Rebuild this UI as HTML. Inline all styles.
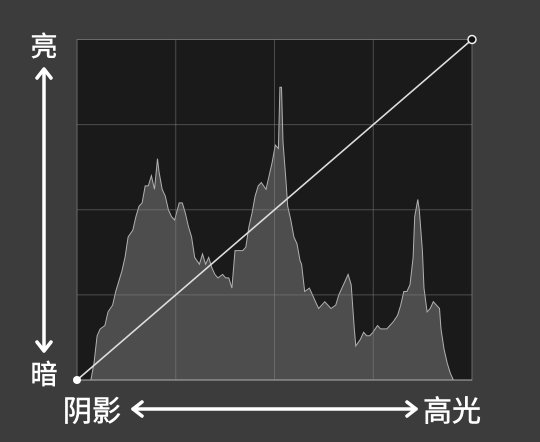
<!DOCTYPE html>
<html><head><meta charset="utf-8"><style>
html,body{margin:0;padding:0;background:#3c3c3c;}
svg{display:block;}
text{font-family:"Liberation Sans","Noto Sans CJK SC",sans-serif;fill:#fff;stroke:#fff;stroke-width:0.5;}
</style></head><body>
<svg id="chart" width="540" height="442">
<rect x="0" y="0" width="540" height="442" fill="#3c3c3c"/>
<rect x="77" y="39.5" width="395" height="340.5" fill="#1a1a1a" stroke="#6a6a6a" stroke-width="1"/>
<g id="grid"></g>
<path id="hist" fill="#4d4d4d" stroke="#b0b0b0" stroke-width="1"/>
<g id="grid2"></g>
<line id="curve" stroke="#dedede" stroke-width="1.6"/>
<circle id="p0" r="4" fill="#fff"/>
<circle id="p1" r="4" fill="#111" stroke="#eee" stroke-width="1.5"/>
<text x="44" y="56" font-size="27" text-anchor="middle">亮</text>
<text x="44" y="384" font-size="27" text-anchor="middle">暗</text>
<g stroke="#fff" stroke-width="3.5" fill="none" stroke-linecap="round" stroke-linejoin="round">
<line x1="44" y1="70" x2="44" y2="350"/>
<polyline points="37,78 44,69 51,78"/>
<polyline points="37,342 44,351 51,342"/>
</g>
<text x="63" y="421" font-size="29">阴影</text>
<text x="423" y="421" font-size="29">高光</text>
<g stroke="#fff" stroke-width="3.5" fill="none" stroke-linecap="round" stroke-linejoin="round">
<line x1="133" y1="409" x2="416" y2="409"/>
<polyline points="142,402 133,409 142,416"/>
<polyline points="407,402 416,409 407,416"/>
</g>
</svg>
<script>
const levels=[0,9,11,13,15,18,20,23,25,27,29,31,33,36,38,40,42,44,46,48,50,52,53,55,57,59,61,63,66,68,70,72,74,76,79,81,83,85,87,89,91,94,96,98,100,102,104,107,109,111,113,115,117,119,122,124,126,128,130,131,132,133,135,136,138,140,142,144,145,147,150,152,154,156,158,160,162,164,167,169,171,173,175,177,179,180,183,185,187,189,191,194,196,198,200,202,204,207,209,211,213,215,217,218,220,221,223,224,226,228,230,232,234,235,237,239,241,243,255];
const counts=[0,0,5,13,15,16,20,22,26,29,32,36,42,44,48,51,52,57,57,60,56,65,61,56,54,50,48,47,52,52,49,45,42,36,34,37,34,36,33,31,30,31,30,30,27,38,38,38,39,45,49,54,57,58,56,60,64,69,68,86,86,70,58,51,47,42,40,35,34,26,27,25,23,21,22,23,22,21,22,25,27,29,31,28,15,10,12,14,13,13,14,16,15,15,15,16,17,19,22,26,26,28,36,48,53,50,38,27,20,21,23,22,21,15,9,5,2,0,0];
const curveIn=[0,255];
const curveOut=[0,255];
const X0=77,X1=472,Y0=380,Y1=39.5;
const xs=v=>X0+(X1-X0)*v/255;
const yh=v=>Y0-(Y0-Y1)*v/100;
const yc=v=>Y0-(Y0-Y1)*v/255;
const NS='http://www.w3.org/2000/svg';
const g=document.getElementById('grid2');
[1,2,3].forEach(i=>{
  const lx=document.createElementNS(NS,'line');
  lx.setAttribute('x1',X0+(X1-X0)*i/4);lx.setAttribute('x2',X0+(X1-X0)*i/4);
  lx.setAttribute('y1',Y1);lx.setAttribute('y2',Y0);
  lx.setAttribute('stroke','rgba(140,140,140,0.45)');lx.setAttribute('stroke-width','1');
  
  
  g.appendChild(lx);
  const ly=document.createElementNS(NS,'line');
  ly.setAttribute('y1',Y0-(Y0-Y1)*i/4);ly.setAttribute('y2',Y0-(Y0-Y1)*i/4);
  ly.setAttribute('x1',X0);ly.setAttribute('x2',X1);
  ly.setAttribute('stroke','rgba(140,140,140,0.45)');ly.setAttribute('stroke-width','1');
  
  
  g.appendChild(ly);
});
let d='M'+xs(levels[0])+','+Y0;
levels.forEach((l,i)=>{d+=' L'+xs(l).toFixed(1)+','+yh(counts[i]).toFixed(1);});
d+=' L'+xs(levels[levels.length-1])+','+Y0+' Z';
document.getElementById('hist').setAttribute('d',d);
const c=document.getElementById('curve');
c.setAttribute('x1',xs(curveIn[0]));c.setAttribute('y1',yc(curveOut[0]));
c.setAttribute('x2',xs(curveIn[1]));c.setAttribute('y2',yc(curveOut[1]));
const p0=document.getElementById('p0');p0.setAttribute('cx',xs(curveIn[0]));p0.setAttribute('cy',yc(curveOut[0]));
const p1=document.getElementById('p1');p1.setAttribute('cx',xs(curveIn[1]));p1.setAttribute('cy',yc(curveOut[1]));
</script>
</body></html>
